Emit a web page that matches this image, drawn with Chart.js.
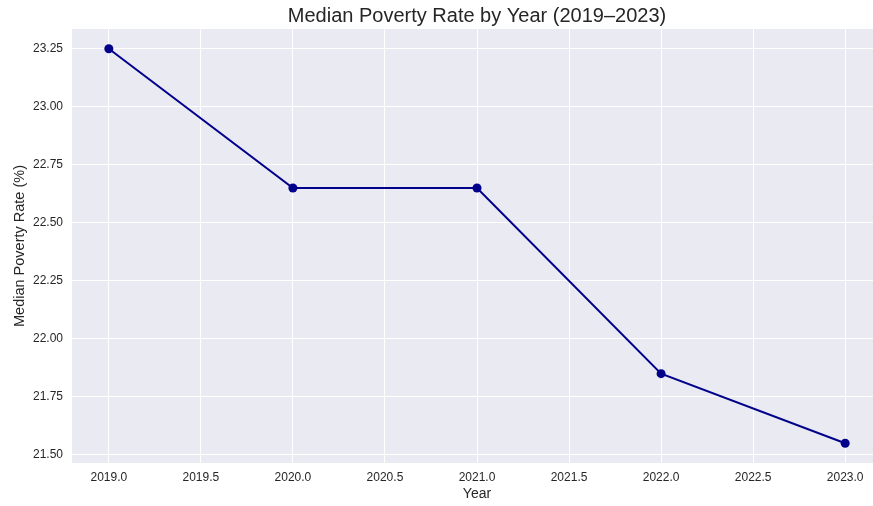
<!DOCTYPE html>
<html>
<head>
<meta charset="utf-8">
<script src="https://cdn.jsdelivr.net/npm/chart.js@4/dist/chart.umd.min.js"></script>
<style>
html,body{margin:0;padding:0;background:#fff;overflow:hidden;}
#wrap{width:873px;height:506px;position:relative;overflow:hidden;}
canvas{display:block;}
</style>
</head>
<body>
<div id="wrap"><canvas id="c" width="882" height="506"></canvas></div>
<script>
const years = [2019, 2020, 2021, 2022, 2023];
const povertyRate = [23.25, 22.65, 22.65, 21.85, 21.55];
const xTickValues = [2019.0, 2019.5, 2020.0, 2020.5, 2021.0, 2021.5, 2022.0, 2022.5, 2023.0];
const yTickValues = [21.50, 21.75, 22.00, 22.25, 22.50, 22.75, 23.00, 23.25];

const FONT = "'Liberation Sans', Arial, sans-serif";
const TXT = '#262626';

const bgPlugin = {
  id: 'bg',
  beforeDraw(chart) {
    const a = chart.chartArea, ctx = chart.ctx;
    ctx.save();
    ctx.fillStyle = '#EAEAF2';
    ctx.fillRect(a.left, a.top, a.right - a.left, a.bottom - a.top);
    ctx.restore();
  }
};

new Chart(document.getElementById('c'), {
  type: 'line',
  data: {
    datasets: [{
      data: years.map((y, i) => ({x: y, y: povertyRate[i]})),
      borderColor: '#00008B',
      backgroundColor: '#00008B',
      borderWidth: 2,
      pointRadius: 4.5,
      pointHoverRadius: 4.5,
      pointBorderWidth: 0,
      tension: 0,
      clip: false
    }]
  },
  options: {
    responsive: false,
    animation: false,
    devicePixelRatio: 1,
    layout: {autoPadding: false, padding: 0},
    plugins: {
      legend: {display: false},
      tooltip: {enabled: false},
      title: {
        display: true,
        fullSize: false,
        text: 'Median Poverty Rate by Year (2019–2023)',
        color: TXT,
        font: {family: FONT, size: 20, weight: 'normal'},
        padding: {top: 4, bottom: 1}
      }
    },
    scales: {
      x: {
        type: 'linear',
        min: 2018.8,
        max: 2023.2,
        afterFit(s) { s.height = 43; },
        afterBuildTicks(s) { s.ticks = xTickValues.map(v => ({value: v})); },
        grid: {color: '#FFFFFF', lineWidth: 1, drawTicks: false},
        border: {display: false},
        ticks: {
          color: TXT, padding: 7, maxRotation: 0, autoSkip: false,
          font: {family: FONT, size: 12},
          callback: v => Number(v).toFixed(1)
        },
        title: {
          display: true, text: 'Year', color: TXT,
          font: {family: FONT, size: 14}, padding: {top: 1, bottom: 3}
        }
      },
      y: {
        type: 'linear',
        min: 21.465,
        max: 23.335,
        afterFit(s) { s.width = 72; },
        afterBuildTicks(s) { s.ticks = yTickValues.map(v => ({value: v})); },
        grid: {color: '#FFFFFF', lineWidth: 1, drawTicks: false},
        border: {display: false},
        ticks: {
          color: TXT, padding: 9, autoSkip: false,
          font: {family: FONT, size: 12},
          callback: v => Number(v).toFixed(2)
        },
        title: {
          display: true, text: 'Median Poverty Rate (%)', color: TXT,
          font: {family: FONT, size: 14.5}, padding: {top: 11, bottom: 0}
        }
      }
    }
  },
  plugins: [bgPlugin]
});
</script>
</body>
</html>
